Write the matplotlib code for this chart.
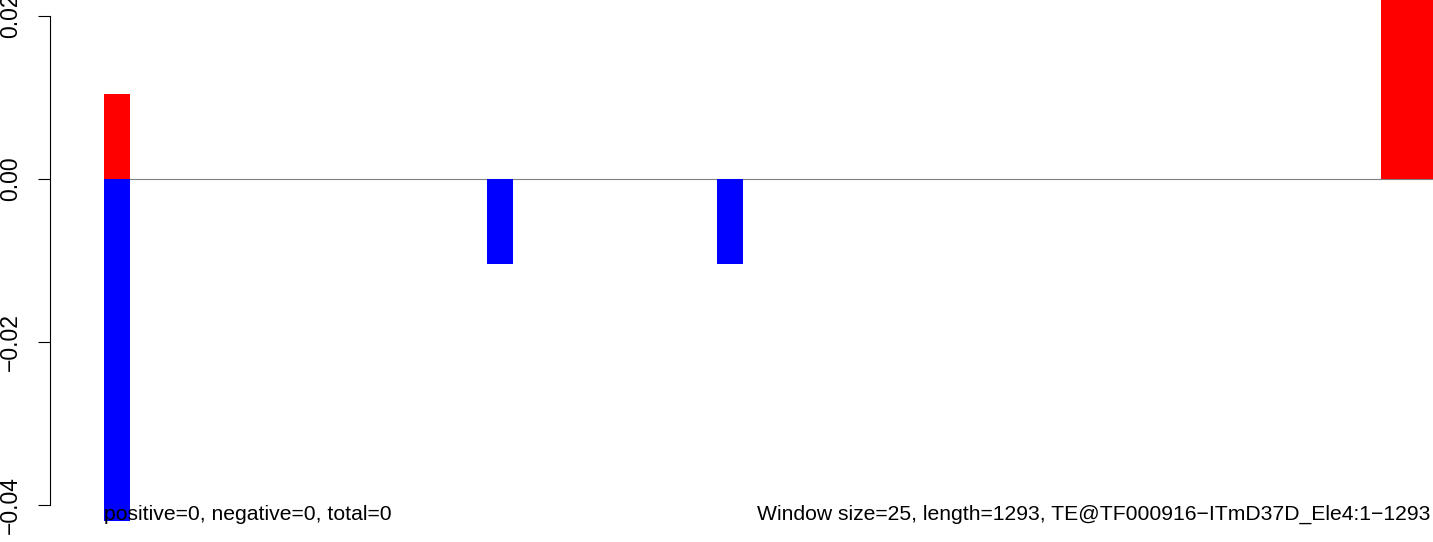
import matplotlib
matplotlib.use("Agg")
import matplotlib.pyplot as plt

plt.rcParams["font.family"] = ["Liberation Sans", "DejaVu Sans"]

seq_length = 1293

# windows with positive / negative scores (start in bp, width in bp, value)
pos_start = [0, 1227]
pos_width = [25, 66]
pos_value = [0.0104, 0.0417]

neg_start = [0, 368, 589]
neg_width = [25, 25, 25]
neg_value = [-0.042, -0.0104, -0.0104]

yticks = [-0.04, -0.02, 0.00, 0.02]
ytick_labels = ["\u22120.04", "\u22120.02", "0.00", "0.02"]

left_note = "positive=0, negative=0, total=0"
right_note = "Window size=25, length=1293, TE@TF000916\u2212ITmD37D_Ele4:1\u22121293"

W, H = 1433, 542
fig = plt.figure(figsize=(W / 100, H / 100), dpi=100)
# plot region runs past the right edge of the page, like the R device did
ax = fig.add_axes([50 / W, 0, 1453 / W, 1])

ax.hlines(0, 0, seq_length, color="#808080", lw=0.8, zorder=1)
ax.bar(pos_start, pos_value, width=pos_width, align="edge", color="#ff0000", zorder=2)
ax.bar(neg_start, neg_value, width=neg_width, align="edge", color="#0000ff", zorder=2)

ax.set_xlim(-0.04 * seq_length, 1.04 * seq_length)
ax.set_ylim(-(H - 179) / 8150, 179 / 8150)

for side in ["top", "right", "bottom"]:
    ax.spines[side].set_visible(False)
ax.spines["left"].set_bounds(-0.04, 0.02)
ax.spines["left"].set_linewidth(0.8)
ax.set_xticks([])
ax.set_yticks(yticks)
ax.set_yticklabels(ytick_labels, rotation=90, va="center", fontsize=16.5)
ax.tick_params(axis="y", length=8.6, width=0.8, pad=11.5)

ax.text(0, -0.0418, left_note, ha="left", va="baseline", fontsize=15.2)
ax.text(1275, -0.0418, right_note, ha="right", va="baseline", fontsize=15.2)

fig.savefig("out.png", dpi=100)
